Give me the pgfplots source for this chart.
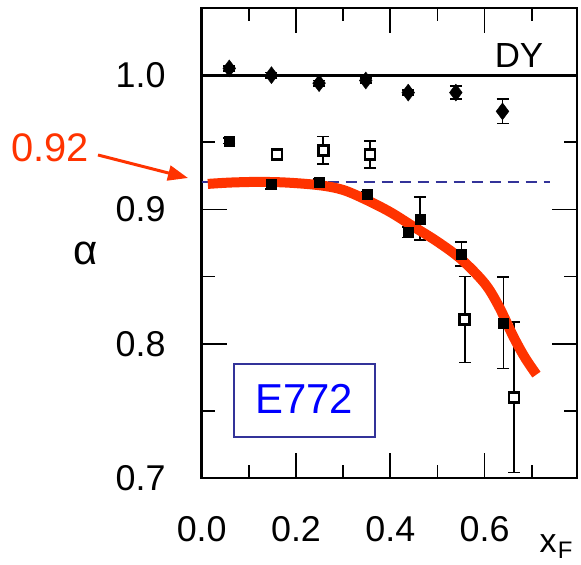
\documentclass[border=0pt]{standalone}
\usepackage{pgfplots}
\pgfplotsset{compat=1.18}
\usepackage{fontspec}
\setmainfont{Liberation Sans}
\usetikzlibrary{arrows.meta}
\definecolor{fitred}{HTML}{FF3300}
\definecolor{dblue}{HTML}{333399}
\definecolor{eblue}{HTML}{0000FF}
\begin{document}
\begin{tikzpicture}
\path[use as bounding box] (-201.7bp,-87bp) rectangle (379.3bp,478bp);
\begin{axis}[at={(0bp,0bp)}, anchor=south west, scale only axis,
  width=375.3bp, height=470bp,
  xmin=0, xmax=0.796, ymin=0.7, ymax=1.05,
  xtick={0,0.2,0.4,0.6}, minor xtick={0.1,0.3,0.5,0.7},
  ytick={0.7,0.8,0.9,1.0}, minor ytick={0.75,0.85,0.95},
  tick align=inside, major tick length=25bp, minor tick length=13bp,
  every tick/.style={line width=1.8bp, black},
  axis line style={line width=2.8bp},
  tick label style={font=\fontsize{36}{42}\selectfont, inner sep=0pt},
  xticklabel style={anchor=north, yshift=-38bp},
  yticklabel style={anchor=east, xshift=-36bp},
  /pgf/number format/fixed, /pgf/number format/fixed zerofill,
  /pgf/number format/precision=1, /pgf/number format/assume math mode=true,
  clip=true,
]
% DY reference line
\addplot[black, line width=3bp] coordinates {(0,1.0) (0.796,1.0)};
% dashed 0.92 line
\addplot[dblue, line width=2bp, dash pattern=on 11bp off 7bp] coordinates {(0,0.9205) (0.739,0.9205)};
% DY data
\addplot[only marks, black, mark=diamond*, mark size=8.5bp,
  error bars/.cd, y dir=both, y explicit,
  error bar style={line width=1.7bp},
  error mark options={rotate=90, mark size=6bp, line width=1.7bp}]
  coordinates {
  (0.0585,1.005) +- (0,0.002)
  (0.148,1.0) +- (0,0.002)
  (0.249,0.994) +- (0,0.002)
  (0.348,0.996) +- (0,0.002)
  (0.438,0.987) +- (0,0.002)
  (0.539,0.987) +- (0,0.0047)
  (0.638,0.973) +- (0,0.009)
  };
% filled points
\addplot[only marks, black, mark=square*, mark size=5bp,
  error bars/.cd, y dir=both, y explicit,
  error bar style={line width=1.7bp},
  error mark options={rotate=90, mark size=6bp, line width=1.7bp}]
  coordinates {
  (0.0585,0.951) +- (0,0.002)
  (0.148,0.919) +- (0,0.004)
  (0.249,0.9205) +- (0,0.002)
  (0.350,0.911) +- (0,0.002)
  (0.438,0.883) +- (0,0.004)
  (0.463,0.893) +- (0,0.016)
  (0.551,0.867) +- (0,0.009)
  (0.640,0.8155) +- (0,0.034)
  };
% open points
\addplot[only marks, black, mark=square*, mark size=5bp,
  mark options={fill=white, line width=2.6bp},
  error bars/.cd, y dir=both, y explicit,
  error bar style={line width=1.7bp},
  error mark options={rotate=90, mark size=6bp, line width=1.7bp}]
  coordinates {
  (0.160,0.941) +- (0,0.002)
  (0.258,0.944) +- (0,0.0104)
  (0.357,0.941) +- (0,0.010)
  (0.558,0.818) +- (0,0.032)
  (0.662,0.760) +- (0,0.056)
  };
% fit curve
\addplot[fitred, line width=10bp, smooth, tension=0.55] coordinates {
  (0.013,0.919) (0.06,0.9200) (0.12,0.9205) (0.18,0.9200)
  (0.25,0.9180) (0.30,0.9145) (0.35,0.9070) (0.40,0.8980)
  (0.45,0.8870) (0.50,0.8760) (0.55,0.8630) (0.60,0.8450)
  (0.63,0.8280) (0.66,0.8060) (0.685,0.7900) (0.710,0.7770)
  };
\end{axis}
% annotations
\node[text=fitred, font=\fontsize{40}{46}\selectfont, inner sep=0pt] at (-151.7bp,330bp) {0.92};
\draw[fitred, line width=3bp, -{Triangle[length=20bp,width=15bp]}] (-103.7bp,323bp) -- (-13.7bp,300bp);
\node[font=\fontsize{42}{48}\selectfont, inner sep=0pt] at (-115.7bp,225bp) {α};
\node[font=\fontsize{35}{40}\selectfont, inner sep=0pt] at (317.3bp,422bp) {DY};
\draw[dblue, line width=2bp] (32.3bp,41.3bp) rectangle (173.3bp,114bp);
\node[text=eblue, font=\fontsize{42}{48}\selectfont, inner sep=0pt] at (102.5bp,78.8bp) {E772};
\node[font=\fontsize{34}{40}\selectfont, inner sep=0pt, anchor=base] at (346.3bp,-74bp) {x};
\node[font=\fontsize{24}{28}\selectfont, inner sep=0pt, anchor=base west] at (356bp,-80.5bp) {F};
\end{tikzpicture}
\end{document}
